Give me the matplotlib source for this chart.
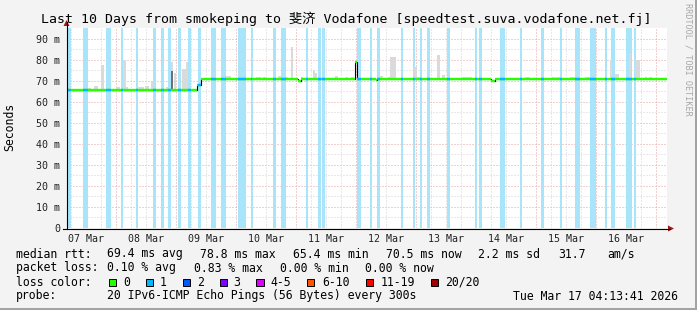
import matplotlib
matplotlib.use("Agg")
import matplotlib.pyplot as plt
from matplotlib.patches import Rectangle, Polygon
from matplotlib.lines import Line2D

# ---------------- data (hours since graph start 2026-03-07 04:13:41) ----------------
span_hours = 240
first_midnight = 19.77          # Mar 8 00:00 in hours since start
day_labels = ["07 Mar", "08 Mar", "09 Mar", "10 Mar", "11 Mar",
              "12 Mar", "13 Mar", "14 Mar", "15 Mar", "16 Mar"]
y_ticks = [0, 10, 20, 30, 40, 50, 60, 70, 80, 90]
y_tick_labels = ["0", "10 m", "20 m", "30 m", "40 m", "50 m", "60 m", "70 m", "80 m", "90 m"]

# median rtt in ms, piecewise constant segments
med_start = [0, 52.3, 53.8, 92.5, 93.7, 115.2, 116.1, 123.6, 124.3, 169.8, 171.4]
med_end = [52.3, 53.8, 92.5, 93.7, 115.2, 116.1, 123.6, 124.3, 169.8, 171.4, 240]
med_value = [65.5, 68.0, 70.7, 70.0, 70.7, 78.8, 70.7, 70.1, 70.7, 70.0, 70.6]

# periods with 1/20 packet loss (start hour, length hours)
loss_start = [0, 6.7, 15.9, 21.8, 27.8, 34.6, 37.8, 40.5, 44.5, 48.5, 52.5, 57.8, 61.8,
              68.6, 73.6, 82.4, 85.7, 95.7, 100.5, 102.3, 116.1, 121.4, 124.3, 133.6,
              138.5, 141.5, 144.3, 152.1, 163.4, 165.1, 173.4, 181.4, 189.8, 197.2,
              203.3, 209.2, 215.3, 217.9, 223.9, 227.1]
loss_len = [1.6, 2.0, 2.0, 0.9, 0.9, 1.3, 1.0, 1.4, 1.4, 1.1, 1.3, 2.0, 2.0,
            3.2, 0.8, 1.3, 2.0, 0.9, 1.2, 1.2, 1.5, 0.8, 1.1, 0.8,
            0.8, 0.8, 1.2, 1.4, 0.7, 1.0, 1.9, 0.8, 1.0, 0.8,
            2.0, 2.5, 0.8, 1.6, 2.2, 0.8]

# smoke (ping spread above median): start hour, length hours, top (ms)
smoke_start = [0.4, 8.4, 10.8, 13.6, 19.9, 22.6, 23.9, 28.3, 31.5, 33.9, 39.9, 41.9,
               42.8, 46.2, 47.7, 58.6, 63.8, 75.8, 78.5, 84.5, 87.7, 89.7, 93.7,
               98.4, 99.5, 107.5, 111.6, 113.9, 125.5, 128.4, 129.5, 139.1, 140.2,
               148.2, 150.2, 152.2, 158.3, 183.3, 194.0, 195.9, 201.2, 207.3,
               217.2, 219.2, 225.1, 227.5, 231.2, 233.1]
smoke_len = [1.2, 1.2, 1.6, 1.2, 1.6, 1.3, 0.8, 2.8, 1.6, 0.8, 1.2, 0.8,
             0.9, 1.5, 0.8, 1.2, 2.0, 1.9, 1.2, 1.1, 0.8, 0.9, 0.8,
             1.1, 0.8, 1.1, 0.9, 0.9, 1.0, 1.1, 2.1, 1.1, 1.2,
             1.3, 1.2, 1.3, 4.0, 2.0, 1.4, 1.3, 2.4, 1.9,
             1.0, 1.9, 0.8, 1.7, 0.9, 1.0]
smoke_top = [66.5, 66.3, 67.4, 77.3, 67.0, 80.0, 67.0, 67.0, 67.5, 69.2, 67.0, 78.8,
             73.6, 75.7, 79.0, 72.1, 72.0, 71.6, 71.5, 72.0, 71.7, 85.9, 71.7,
             74.9, 73.4, 72.0, 71.8, 71.5, 72.0, 71.5, 81.2, 76.5, 71.7,
             82.0, 72.5, 71.8, 71.5, 71.8, 71.7, 71.7, 71.7, 71.7,
             80.0, 73.2, 83.0, 80.0, 71.8, 71.6]
dark_start = [41.9]
dark_len = [0.8]
dark_top = [74.5]

# legend texts
stats_rtt = ["69.4 ms avg", "78.8 ms max", "65.4 ms min", "70.5 ms now", "2.2 ms sd", "31.7", "am/s"]
stats_loss = ["0.10 % avg", "0.83 % max", "0.00 % min", "0.00 % now"]
loss_names = ["0", "1", "2", "3", "4-5", "6-10", "11-19", "20/20"]
loss_colors = ["#26ff00", "#00b8ff", "#0059ff", "#7e00ff", "#dd00ff", "#ff5500", "#ff0000", "#a10000"]
title = "Last 10 Days from smokeping to 斐济 Vodafone [speedtest.suva.vodafone.net.fj]"
probe_text = "20 IPv6-ICMP Echo Pings (56 Bytes) every 300s"
stamp = "Tue Mar 17 04:13:41 2026"

# ---------------- figure ----------------
W, H = 697, 310
MONO = "DejaVu Sans Mono"
fig = plt.figure(figsize=(W / 100, H / 100), dpi=100)
fig.patch.set_facecolor("#f3f3f3")


def P(x, y):
    return (x / W, 1 - y / H)


ax = fig.add_axes([66.5 / W, (H - 228) / H, 600 / W, 200 / H])
ax.set_facecolor("white")
ax.set_xlim(0, span_hours)
ax.set_ylim(0, 95)
for s in ax.spines.values():
    s.set_visible(False)

dot = (0, (1, 2))
# horizontal grid
for v in range(5, 95, 5):
    ax.axhline(v, color="#e6a3a3" if v % 10 == 0 else "#d2d2d2", lw=0.72,
               ls=dot, zorder=0.5)
# vertical grid
h = first_midnight - 18
while h < span_hours:
    major = abs(((h - first_midnight) / 24) - round((h - first_midnight) / 24)) < 1e-6
    ax.axvline(h, color="#e6a3a3" if major else "#d2d2d2", lw=0.72, ls=dot, zorder=0.5)
    h += 6

# loss bands
for s0, l in zip(loss_start, loss_len):
    ax.axvspan(s0, s0 + l, color="#a8e5fb", lw=0, zorder=1)


def median_at(t):
    for a, b, v in zip(med_start, med_end, med_value):
        if a <= t < b:
            return v
    return med_value[-1]


# smoke
ax.bar(smoke_start, [t - median_at(s0) for s0, t in zip(smoke_start, smoke_top)],
       width=smoke_len, bottom=[median_at(s0) for s0 in smoke_start], align="edge",
       color="#dadada", lw=0, zorder=2)
ax.bar(dark_start, [t - median_at(s0) for s0, t in zip(dark_start, dark_top)],
       width=dark_len, bottom=[median_at(s0) for s0 in dark_start], align="edge",
       color="#707070", lw=0, zorder=2.1)

# median: thin black step line
ax.step(med_start + [med_end[-1]], med_value + [med_value[-1]], where="post",
        color="black", lw=0.8, zorder=3)
# coloured by loss
for a, b, v in zip(med_start, med_end, med_value):
    ax.hlines(v, a, b, color=loss_colors[0], lw=1.7, zorder=4, capstyle="butt")
    for s0, l in zip(loss_start, loss_len):
        lo, hi = max(a, s0), min(b, s0 + l)
        if hi > lo:
            ax.hlines(v, lo, hi, color=loss_colors[1], lw=1.7, zorder=4.1, capstyle="butt")

# ticks
noon = [first_midnight - 12 + 24 * i for i in range(len(day_labels))]
ax.set_xticks(noon, day_labels)
ax.set_yticks(y_ticks, y_tick_labels)
ax.tick_params(axis="both", length=0, labelsize=7.2, labelcolor="#222222")
ax.tick_params(axis="x", pad=4.3)
ax.tick_params(axis="y", pad=4.6)
for lab in ax.get_xticklabels() + ax.get_yticklabels():
    lab.set_fontfamily(MONO)

# axis lines and arrows
fig.add_artist(Line2D([P(66.5, 0)[0]] * 2, [P(0, 228.5)[1], P(0, 22)[1]], color="black", lw=0.8))
fig.add_artist(Line2D([P(63, 0)[0], P(670, 0)[0]], [P(0, 228.5)[1]] * 2, color="black", lw=0.8))
fig.add_artist(Polygon([P(63.5, 26), P(69.5, 26), P(66.5, 20)], closed=True,
                       facecolor="#9e1a1a", edgecolor="none"))
fig.add_artist(Polygon([P(668, 225.5), P(668, 231.5), P(674, 228.5)], closed=True,
                       facecolor="#9e1a1a", edgecolor="none"))

# title, y label, watermark
fig.text(*P(346, 19), title, ha="center", va="center", fontsize=9.5,
         family=[MONO, "Noto Sans CJK SC"], color="black")
fig.text(*P(10, 127), "Seconds", rotation=90, ha="center", va="center",
         fontsize=8.3, family=MONO)
fig.text(*P(688, 59), "RRDTOOL / TOBI OETIKER", rotation=270, ha="center", va="center",
         fontsize=6.1, family=MONO, color="#a8a8a8")

# legend
LF = 8.3
fig.text(*P(16, 254), "median rtt:", fontsize=LF, family=MONO, va="center")
for x, s in zip([107, 200, 293, 386, 478.5, 558.5, 607], stats_rtt):
    fig.text(*P(x, 254), s, fontsize=LF, family=MONO, va="center")
fig.text(*P(16, 268), "packet loss:", fontsize=LF, family=MONO, va="center")
for x, s in zip([107, 194, 279.5, 365], stats_loss):
    fig.text(*P(x, 268), s, fontsize=LF, family=MONO, va="center")
fig.text(*P(16, 282), "loss color:", fontsize=LF, family=MONO, va="center")
for bx, lx, name, c in zip([108.5, 145.7, 182.7, 219.5, 256, 306.7, 365.7, 430.7],
                           [123.3, 160, 197, 233.7, 270.7, 322, 380.7, 445],
                           loss_names, loss_colors):
    fig.add_artist(Rectangle(P(bx, 286), 7.5 / W, 7.5 / H, facecolor=c,
                             edgecolor="black", lw=0.7))
    fig.text(*P(lx, 282), name, fontsize=LF, family=MONO, va="center")
fig.text(*P(16, 296), "probe:", fontsize=LF, family=MONO, va="center")
fig.text(*P(107, 296), probe_text, fontsize=LF, family=MONO, va="center")
fig.text(*P(513.3, 296), stamp, fontsize=LF, family=MONO, va="center")

# frame shadow
fig.add_artist(Rectangle(P(0, 310), 1, 2.5 / H, facecolor="#a3a3a3", edgecolor="none"))
fig.add_artist(Rectangle(P(694.5, 310), 2.5 / W, 1, facecolor="#a3a3a3", edgecolor="none"))

fig.savefig("out.png", dpi=100, facecolor=fig.get_facecolor())
